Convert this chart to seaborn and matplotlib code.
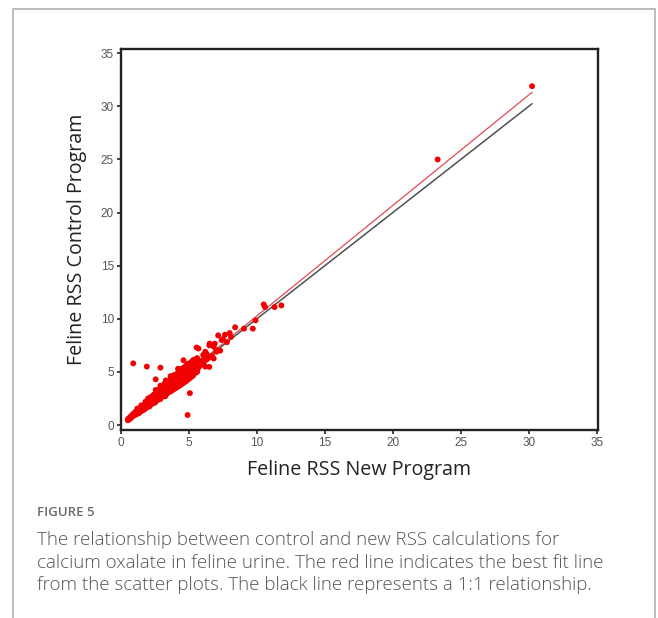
import matplotlib
matplotlib.use("Agg")
import matplotlib.pyplot as plt
from matplotlib.lines import Line2D
import seaborn as sns
import pandas as pd
import numpy as np

# Feline calcium oxalate RSS: new program (x) vs control program (y)
new_rss = [
    0.50, 0.52, 0.58, 0.62, 0.68, 0.71, 0.74, 0.79, 0.82, 0.86, 0.90, 0.93,
    0.97, 1.00, 1.03, 1.06, 1.10, 1.12, 1.15, 1.19, 1.22, 1.25, 1.28, 1.31,
    1.34, 1.38, 1.41, 1.44, 1.47, 1.50, 1.53, 1.57, 1.60, 1.62, 1.66, 1.70,
    1.72, 1.75, 1.79, 1.82, 1.85, 1.88, 1.91, 1.95, 1.98, 2.01, 2.04, 2.08,
    2.11, 2.14, 2.18, 2.21, 2.24, 2.27, 2.31, 2.34, 2.38, 2.40, 2.43, 2.47,
    2.50, 2.53, 2.57, 2.60, 2.62, 2.66, 2.70, 2.72, 2.75, 2.79, 2.82, 2.85,
    2.88, 2.92, 2.95, 2.98, 3.01, 3.04, 3.08, 3.10, 3.13, 3.17, 3.20, 3.22,
    3.26, 3.30, 3.32, 3.35, 3.39, 3.42, 3.45, 3.48, 3.51, 3.55, 3.58, 3.61,
    3.64, 3.67, 3.70, 3.73, 3.77, 3.80, 3.83, 3.86, 3.90, 3.93, 3.96, 3.99,
    4.02, 4.05, 4.09, 4.12, 4.15, 4.18, 4.21, 4.25, 4.28, 4.31, 4.34, 4.38,
    4.41, 4.44, 4.47, 4.50, 4.53, 4.57, 4.60, 4.63, 4.66, 4.70, 4.72, 4.76,
    4.79, 4.82, 4.85, 4.89, 4.92, 4.95, 4.98, 5.02, 5.05, 5.08, 5.12, 5.15,
    5.18, 5.22, 5.26, 5.30, 5.34, 5.38, 5.42, 5.47, 5.52, 5.58, 5.63, 5.70,
    5.76, 5.84, 5.92, 6.00, 6.08, 6.15, 6.30, 6.42,
    1.45, 1.95, 2.35, 2.65, 3.05, 3.45, 3.85, 4.25, 4.65, 5.05, 2.55, 3.65,
    4.20, 4.60, 4.02, 3.25, 2.85, 4.75, 5.35,
    1.20, 1.50, 1.80, 2.00, 2.20, 2.40, 2.60, 2.80, 3.00, 3.20, 3.40, 3.60,
    3.80, 4.00, 4.20, 4.40, 4.60, 4.80, 5.00, 5.20, 5.40, 3.30, 3.90, 4.50,
    2.90, 3.70, 4.30, 4.90, 5.30, 5.60,
    1.30, 1.70, 2.10, 2.50, 2.90, 3.30, 3.70, 4.10, 4.50, 4.90, 5.30, 5.60,
    3.15, 3.55, 3.95, 4.35, 4.75, 5.15, 2.75, 2.35, 1.90,
    0.90, 1.90, 2.90, 2.55, 5.07, 4.90, 5.60, 6.20, 6.50,
    5.56, 5.70, 6.05, 6.20, 6.30, 6.50, 6.52, 6.70, 6.80, 6.82, 6.90, 7.00,
    7.02, 7.15, 7.30, 7.40, 7.50, 7.65, 7.80, 8.00, 8.10, 8.40, 9.05, 9.70,
    9.90, 10.50, 10.60, 11.30, 11.80, 23.30, 30.25,
]
control_rss = [
    0.45, 0.58, 0.50, 0.68, 0.60, 0.80, 0.70, 0.88, 0.78, 0.98, 0.86, 1.08,
    0.92, 1.04, 1.20, 0.96, 1.12, 1.28, 1.04, 1.22, 1.38, 1.10, 1.30, 1.48,
    1.20, 1.40, 1.58, 1.26, 1.46, 1.66, 1.34, 1.56, 1.76, 1.42, 1.64, 1.86,
    1.52, 1.74, 1.96, 1.58, 1.82, 2.06, 1.68, 1.92, 2.18, 1.76, 2.02, 2.26,
    1.86, 2.12, 2.38, 1.94, 2.20, 2.48, 2.02, 2.30, 2.58, 2.12, 2.40, 2.66,
    2.18, 2.48, 2.78, 2.28, 2.56, 2.86, 2.36, 2.66, 2.96, 2.44, 2.74, 3.06,
    2.54, 2.84, 3.16, 2.62, 2.92, 3.24, 3.50, 2.74, 3.04, 3.34, 3.60, 2.84,
    3.14, 3.44, 3.72, 2.94, 3.24, 3.54, 3.82, 3.06, 3.36, 3.66, 3.94, 3.14,
    3.44, 3.76, 4.04, 3.24, 3.54, 3.84, 4.14, 3.34, 3.66, 3.96, 4.26, 3.46,
    3.76, 4.06, 4.36, 3.56, 3.86, 4.18, 4.48, 3.66, 3.96, 4.28, 4.58, 3.76,
    4.08, 4.40, 4.70, 3.88, 4.18, 4.50, 4.82, 4.00, 4.30, 4.62, 4.92, 4.12,
    4.42, 4.74, 5.04, 4.24, 4.56, 4.86, 5.18, 4.36, 4.68, 5.00, 5.30, 4.50,
    4.82, 5.14, 5.46, 4.64, 4.96, 5.28, 5.58, 4.90, 5.30, 5.62, 5.20, 5.80,
    5.50, 5.95, 5.70, 6.10, 5.88, 6.25, 6.15, 6.30,
    1.62, 2.22, 2.70, 3.02, 3.44, 3.88, 4.30, 4.72, 5.14, 5.62, 3.30, 4.60,
    5.30, 6.10, 3.50, 2.70, 2.45, 4.10, 5.95,
    1.55, 1.85, 2.20, 2.50, 2.65, 2.85, 3.10, 3.35, 3.60, 3.90, 4.05, 4.25,
    4.50, 4.70, 4.95, 5.20, 5.40, 5.60, 5.80, 5.95, 6.15, 4.20, 4.70, 5.30,
    3.70, 4.55, 5.10, 5.75, 6.10, 6.30,
    1.10, 1.45, 1.75, 2.10, 2.45, 2.85, 3.25, 3.60, 4.00, 4.45, 4.85, 5.20,
    3.60, 4.00, 4.35, 4.80, 5.20, 5.55, 3.10, 2.60, 2.10,
    5.80, 5.50, 5.40, 4.30, 3.00, 0.94, 5.00, 5.50, 5.47,
    7.30, 7.20, 6.60, 6.90, 6.70, 7.50, 7.66, 6.50, 7.40, 6.26, 7.66, 7.10,
    6.90, 8.44, 7.00, 8.00, 8.10, 8.50, 7.80, 8.66, 8.30, 9.20, 9.07, 9.07,
    9.85, 11.35, 11.10, 11.10, 11.26, 25.00, 31.90,
]

# Least-squares line reported for the scatter, alongside the 1:1 reference
fit_slope = 1.04
fit_intercept = -0.13

axis_ticks = [0, 5, 10, 15, 20, 25, 30, 35]

sns.set_theme(style="white")
plt.rcParams["font.family"] = ["Liberation Sans", "DejaVu Sans"]

W, H = 658, 618
fig = plt.figure(figsize=(W / 100, H / 100), dpi=100)
fig.patch.set_facecolor("white")

# Light frame around the figure panel (open at the bottom)
frame_kw = dict(transform=fig.transFigure, color="#bdbdbd", lw=1.4)
fig.add_artist(Line2D([13 / W, 13 / W], [0, 1 - 9 / H], **frame_kw))
fig.add_artist(Line2D([13 / W, 655 / W], [1 - 9 / H, 1 - 9 / H], **frame_kw))
fig.add_artist(Line2D([655 / W, 655 / W], [0, 1 - 9 / H], **frame_kw))

ax = fig.add_axes([121 / W, 1 - 430 / H, 477 / W, 381 / H])

points = pd.DataFrame({"new": new_rss, "control": control_rss})
x_span = np.array([points["new"].min(), points["new"].max()])
lines = pd.DataFrame({
    "x": x_span,
    "identity": x_span,
    "fit": fit_slope * x_span + fit_intercept,
})

sns.lineplot(data=lines, x="x", y="identity", ax=ax, color="#505050", lw=1.1, zorder=2)
sns.lineplot(data=lines, x="x", y="fit", ax=ax, color="#e34a55", lw=0.9, zorder=2)
sns.scatterplot(data=points, x="new", y="control", ax=ax, color="#f00000",
                s=18, edgecolor="none", linewidth=0, zorder=3)

ax.set_xlim(0, 35.1)
ax.set_ylim(-0.47, 35.4)
ax.set_xticks(axis_ticks)
ax.set_yticks(axis_ticks)
ax.set_xticklabels([str(t) for t in axis_ticks])
ax.set_yticklabels([str(t) for t in axis_ticks])
ax.tick_params(axis="both", direction="out", length=3, width=1.2, color="#222222",
               labelsize=8.5, labelcolor="#555555", pad=2, bottom=True, left=True)
for side in ax.spines.values():
    side.set_color("#222222")
    side.set_linewidth(1.7)

ax.set_xlabel("Feline RSS New Program", fontsize=14.2, family="Open Sans", color="#222222")
ax.set_ylabel("Feline RSS Control Program", fontsize=14.2, family="Open Sans", color="#222222")
ax.xaxis.set_label_coords(0.5, (430 - 460) / 381)
ax.yaxis.set_label_coords((87 - 121) / 477, 0.5)

# Caption block
cap_x = 37 / W
fig.text(cap_x, 1 - 513 / H, "FIGURE 5", fontsize=9.5, color="#6a6a6a",
         family="Open Sans", weight="semibold", va="center")
caption = [
    "The relationship between control and new RSS calculations for",
    "calcium oxalate in feline urine. The red line indicates the best fit line",
    "from the scatter plots. The black line represents a 1:1 relationship.",
]
for i, line in enumerate(caption):
    fig.text(cap_x, 1 - (540 + 22.5 * i) / H, line, fontsize=13.5, color="#555555",
             family="Open Sans", weight="light", va="center")

fig.savefig("out.png", dpi=100)
